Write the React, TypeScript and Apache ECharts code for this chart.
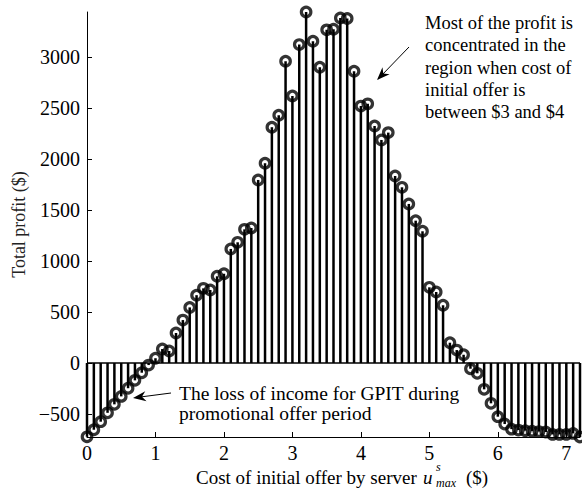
import React, { useEffect, useRef } from "react";
import * as echarts from "echarts";

const xValues = [
  0.0, 0.1, 0.2, 0.3, 0.4, 0.5, 0.6, 0.7, 0.8, 0.9,
  1.0, 1.1, 1.2, 1.3, 1.4, 1.5, 1.6, 1.7, 1.8, 1.9,
  2.0, 2.1, 2.2, 2.3, 2.4, 2.5, 2.6, 2.7, 2.8, 2.9,
  3.0, 3.1, 3.2, 3.3, 3.4, 3.5, 3.6, 3.7, 3.8, 3.9,
  4.0, 4.1, 4.2, 4.3, 4.4, 4.5, 4.6, 4.7, 4.8, 4.9,
  5.0, 5.1, 5.2, 5.3, 5.4, 5.5, 5.6, 5.7, 5.8, 5.9,
  6.0, 6.1, 6.2, 6.3, 6.4, 6.5, 6.6, 6.7, 6.8, 6.9,
  7.0, 7.1, 7.2,
];

const profit = [
  -723, -654, -575, -488, -405, -327, -247, -170, -95, -20,
  47, 137, 118, 294, 421, 545, 665, 732, 716, 850,
  875, 1118, 1183, 1310, 1323, 1794, 1958, 2311, 2428, 2958,
  2618, 3121, 3440, 3154, 2899, 3265, 3271, 3382, 3376, 2860,
  2518, 2540, 2323, 2186, 2258, 1833, 1722, 1559, 1395, 1291,
  742, 696, 566, 199, 127, 81, -56, -101, -258, -395,
  -526, -598, -648, -657, -663, -668, -672, -676, -700, -700,
  -700, -690, -725,
];

const xTicks = [0, 1, 2, 3, 4, 5, 6, 7];
const yTicks = [-500, 0, 500, 1000, 1500, 2000, 2500, 3000];

const topNote = [
  "Most of the profit is",
  "concentrated in the",
  "region when cost of",
  "initial offer is",
  "between $3 and $4",
];
const bottomNote = ["The loss of income for GPIT during", "promotional offer period"];

const FONT = '"Liberation Serif", "Times New Roman", serif';

function arrowHead(tail: number[], tip: number[]) {
  const dx = tail[0] - tip[0];
  const dy = tail[1] - tip[1];
  const len = Math.sqrt(dx * dx + dy * dy);
  const ux = dx / len;
  const uy = dy / len;
  const px = -uy;
  const py = ux;
  const L = 13;
  const W = 5;
  const N = 9;
  return [
    [tip[0], tip[1]],
    [tip[0] + L * ux + W * px, tip[1] + L * uy + W * py],
    [tip[0] + N * ux, tip[1] + N * uy],
    [tip[0] + L * ux - W * px, tip[1] + L * uy - W * py],
  ];
}

const fmtNum = (v: number) => (v < 0 ? "\u2212" + Math.abs(v) : String(v));

export default function App() {
  const ref = useRef<HTMLDivElement>(null);

  useEffect(() => {
    if (!ref.current) return;
    const chart = echarts.init(ref.current, undefined, { renderer: "svg" });
    const pts = xValues.map((x, i) => [x, profit[i]]);
    const xMin = xValues[0];
    const xMax = xValues[xValues.length - 1];

    const topTail = [409, 47];
    const topTip = [377, 80];
    const botTail = [171, 393];
    const botTip = [133, 398];

    chart.setOption({
      animation: false,
      backgroundColor: "#fff",
      grid: { left: 87, right: 2, top: 12, bottom: 54, containLabel: false },
      xAxis: {
        type: "value",
        min: xMin,
        max: xMax,
        axisLine: { show: true, onZero: false, lineStyle: { color: "#000", width: 1 } },
        axisTick: { show: true, inside: true, length: 5, customValues: xTicks, lineStyle: { color: "#000" } },
        axisLabel: {
          customValues: xTicks,
          color: "#000",
          fontFamily: FONT,
          fontSize: 20,
          margin: 6,
          formatter: (v: number) => fmtNum(v),
        },
        splitLine: { show: false },
      },
      yAxis: {
        type: "value",
        min: -725,
        max: 3440,
        name: "Total profit ($)",
        nameLocation: "middle",
        nameGap: 59,
        nameTextStyle: { color: "#222", fontFamily: FONT, fontSize: 18 },
        axisLine: { show: true, lineStyle: { color: "#000", width: 1 } },
        axisTick: { show: true, inside: true, length: 5, customValues: yTicks, lineStyle: { color: "#000" } },
        axisLabel: {
          customValues: yTicks,
          color: "#000",
          fontFamily: FONT,
          fontSize: 20,
          margin: 7,
          formatter: (v: number) => fmtNum(v),
        },
        splitLine: { show: false },
      },
      series: [
        {
          type: "line",
          data: [
            [xMin, 0],
            [xMax, 0],
          ],
          symbol: "none",
          lineStyle: { color: "#000", width: 1.5 },
          z: 1,
        },
        {
          type: "custom",
          data: pts,
          encode: { x: 0, y: 1 },
          z: 2,
          renderItem: (params: any, api: any) => {
            const x = api.value(0);
            const y = api.value(1);
            const p0 = api.coord([x, 0]);
            const p1 = api.coord([x, y]);
            return {
              type: "line",
              shape: { x1: p0[0], y1: p0[1], x2: p1[0], y2: p1[1] },
              style: { stroke: "#000", lineWidth: 2.5 },
            };
          },
        },
        {
          type: "scatter",
          data: pts,
          symbol: "circle",
          symbolSize: 9.5,
          clip: false,
          z: 3,
          itemStyle: {
            color: "rgba(0,0,0,0)",
            borderColor: "#000",
            borderWidth: 3.2,
          },
        },
      ],
      graphic: [
        {
          type: "text",
          left: 425,
          top: 12,
          style: {
            text: topNote.join("\n"),
            fontFamily: FONT,
            fontSize: 18.5,
            lineHeight: 22.3,
            fill: "#000",
          },
        },
        {
          type: "text",
          left: 179,
          top: 383,
          style: {
            text: bottomNote.join("\n"),
            fontFamily: FONT,
            fontSize: 19.5,
            lineHeight: 20,
            fill: "#000",
          },
        },
        {
          type: "line",
          shape: { x1: topTail[0], y1: topTail[1], x2: topTip[0] + 4, y2: topTip[1] - 4 },
          style: { stroke: "#000", lineWidth: 1 },
        },
        {
          type: "polygon",
          shape: { points: arrowHead(topTail, topTip) },
          style: { fill: "#000" },
        },
        {
          type: "line",
          shape: { x1: botTail[0], y1: botTail[1], x2: botTip[0] + 5, y2: botTip[1] - 0.7 },
          style: { stroke: "#000", lineWidth: 1 },
        },
        {
          type: "polygon",
          shape: { points: arrowHead(botTail, botTip) },
          style: { fill: "#000" },
        },
        {
          type: "text",
          x: 196,
          y: 477,
          style: {
            text: "Cost of initial offer by server",
            fontFamily: FONT,
            fontSize: 19,
            fill: "#000",
            verticalAlign: "middle",
            align: "left",
          },
        },
        {
          type: "text",
          x: 423,
          y: 477,
          style: {
            text: "u",
            fontFamily: FONT,
            fontStyle: "italic",
            fontSize: 19,
            fill: "#000",
            verticalAlign: "middle",
            align: "left",
          },
        },
        {
          type: "text",
          x: 436,
          y: 467,
          style: {
            text: "s",
            fontFamily: FONT,
            fontStyle: "italic",
            fontSize: 12,
            fill: "#000",
            verticalAlign: "middle",
            align: "left",
          },
        },
        {
          type: "text",
          x: 436,
          y: 482.5,
          style: {
            text: "max",
            fontFamily: FONT,
            fontStyle: "italic",
            fontSize: 12,
            fill: "#000",
            verticalAlign: "middle",
            align: "left",
          },
        },
        {
          type: "text",
          x: 466,
          y: 477,
          style: {
            text: "($)",
            fontFamily: FONT,
            fontSize: 19,
            fill: "#000",
            verticalAlign: "middle",
            align: "left",
          },
        },
      ],
    });

    return () => {
      chart.dispose();
    };
  }, []);

  return (
    <div
      ref={ref}
      style={{ position: "absolute", left: 0, top: 0, width: 582, height: 491, background: "#fff" }}
    />
  );
}
